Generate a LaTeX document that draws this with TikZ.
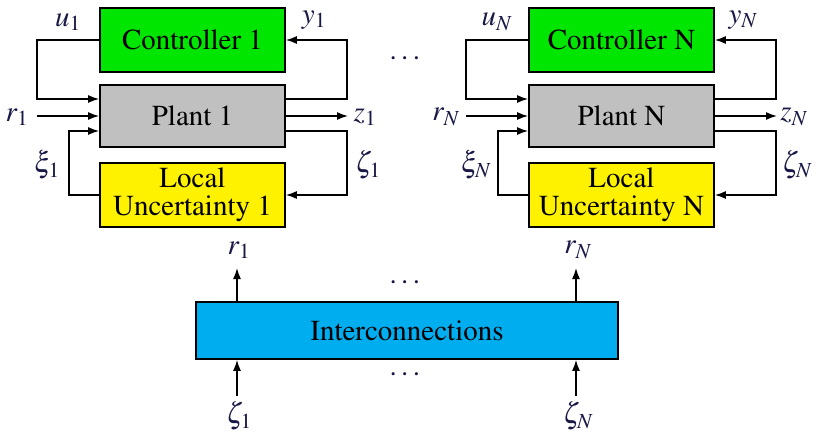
\documentclass[tikz,border=0pt]{standalone}
\usepackage[T1]{fontenc}
\usepackage{mathptmx}
\usetikzlibrary{arrows.meta,calc}
\definecolor{ctrlgreen}{RGB}{0,230,0}
\definecolor{plantgray}{RGB}{192,192,192}
\definecolor{uncyellow}{RGB}{255,242,0}
\definecolor{icblue}{RGB}{0,174,239}
\definecolor{lblink}{RGB}{25,25,70}
\begin{document}
\begin{tikzpicture}[x=1pt,y=-1pt,
  every node/.style={font=\rmfamily\fontsize{29}{30}\selectfont},
  block/.style={draw=black, line width=1.7pt, minimum width=185pt, inner sep=0pt, align=center},
  conn/.style={line width=1.5pt, -{Latex[length=11pt,width=8pt]}},
  lbl/.style={text=lblink, inner sep=0pt}]
\useasboundingbox (0,0) rectangle (823,432);

% two local subsystems, the second one shifted to the right
\foreach \i/\dx in {1/0,N/429}{
  \node[block, fill=ctrlgreen, minimum height=64pt] (C\i) at (192.5+\dx,40) {Controller \i};
  \node[block, fill=plantgray, minimum height=62pt] (P\i) at (192.5+\dx,116) {Plant \i};
  \node[block, fill=uncyellow, minimum height=64pt] (U\i) at (192.5+\dx,195) {Local\\[-2pt]Uncertainty \i};

  % plant input and output ports
  \coordinate (pu\i) at ($(P\i.west)+(0,-17)$);
  \coordinate (pr\i) at (P\i.west);
  \coordinate (px\i) at ($(P\i.west)+(0,15)$);
  \coordinate (py\i) at ($(P\i.east)+(0,-17)$);
  \coordinate (pz\i) at (P\i.east);
  \coordinate (pc\i) at ($(P\i.east)+(0,15)$);
  \coordinate (rin\i) at (37+\dx,116);
  \coordinate (zout\i) at (348+\dx,116);

  % loops around the plant
  \draw[conn] (C\i.west) -- (37+\dx,40) |- (pu\i);
  \draw[conn] (rin\i) -- (pr\i);
  \draw[conn] (U\i.west) -- (69+\dx,195) |- (px\i);
  \draw[conn] (py\i) -- (347+\dx,99) |- (C\i.east);
  \draw[conn] (pz\i) -- (zout\i);
  \draw[conn] (pc\i) -- (347+\dx,131) |- (U\i.east);

  % signal labels
  \node[lbl] (lu\i) at (68+\dx,22) {$u_{\i}$};
  \node[lbl] (ly\i) at (314+\dx,20) {$y_{\i}$};
  \node[lbl] (lr\i) at (17+\dx,117) {$r_{\i}$};
  \node[lbl] (lz\i) at (365+\dx,117) {$z_{\i}$};
  \node[lbl] (lxi\i) at (47+\dx,165) {$\xi_{\i}$};
  \node[lbl] (lze\i) at (368+\dx,165) {$\zeta_{\i}$};
}
\node[lbl] (dtop) at (407,58) {\dots};

% interconnection block
\node[block, fill=icblue, minimum width=422pt, minimum height=57pt] (IC) at (407,330.5) {Interconnections};
\coordinate (icr1) at (IC.north -| 237,0);
\coordinate (icrN) at (IC.north -| 576,0);
\coordinate (icz1) at (IC.south -| 237,0);
\coordinate (iczN) at (IC.south -| 576,0);
\coordinate (or1) at (237,268);
\coordinate (orN) at (576,268);
\coordinate (iz1) at (237,396);
\coordinate (izN) at (576,396);
\draw[conn] (icr1) -- (or1);
\draw[conn] (icrN) -- (orN);
\draw[conn] (iz1) -- (icz1);
\draw[conn] (izN) -- (iczN);
\node[lbl] (br1) at (239,250) {$r_1$};
\node[lbl] (brN) at (578,250) {$r_N$};
\node[lbl] (bz1) at (239,416) {$\zeta_1$};
\node[lbl] (bzN) at (578,416) {$\zeta_N$};
\node[lbl] (dmid) at (407,282) {\dots};
\node[lbl] (dbot) at (407,374) {\dots};
\end{tikzpicture}
\end{document}
